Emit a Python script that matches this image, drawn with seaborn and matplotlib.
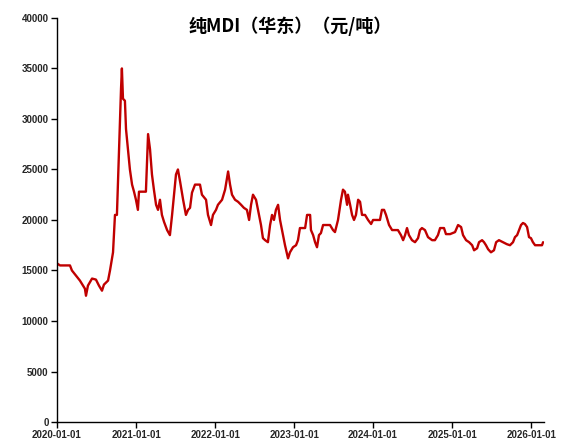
import matplotlib

matplotlib.use("Agg")

import matplotlib.dates as mdates
import matplotlib.pyplot as plt
import pandas as pd
import seaborn as sns

sns.set_theme(style="white")
plt.rcParams["font.family"] = ["Noto Sans CJK SC", "DejaVu Sans"]

title = "纯MDI（华东）（元/吨）"

dates = [
    "2020-01-01", "2020-01-15", "2020-03-01", "2020-03-10", "2020-04-16", "2020-05-09",
    "2020-05-14", "2020-05-23", "2020-06-11", "2020-06-29", "2020-07-13", "2020-07-27",
    "2020-08-05", "2020-08-24", "2020-09-02", "2020-09-16", "2020-09-25", "2020-10-04",
    "2020-10-14", "2020-10-23", "2020-10-27", "2020-11-01", "2020-11-10", "2020-11-15",
    "2020-11-24", "2020-12-03", "2020-12-13", "2020-12-22", "2020-12-31", "2021-01-09",
    "2021-01-14", "2021-02-15", "2021-02-25", "2021-03-06", "2021-03-15", "2021-03-24",
    "2021-04-03", "2021-04-12", "2021-04-21", "2021-04-30", "2021-05-10", "2021-05-24",
    "2021-06-06", "2021-06-16", "2021-06-25", "2021-07-04", "2021-07-13", "2021-07-23",
    "2021-08-06", "2021-08-19", "2021-08-29", "2021-09-07", "2021-09-16", "2021-09-30",
    "2021-10-23", "2021-11-01", "2021-11-20", "2021-11-29", "2021-12-13", "2021-12-22",
    "2022-01-05", "2022-01-14", "2022-02-02", "2022-02-16", "2022-03-02", "2022-03-11",
    "2022-03-20", "2022-04-03", "2022-04-17", "2022-05-01", "2022-05-14", "2022-05-28",
    "2022-06-07", "2022-06-16", "2022-06-25", "2022-07-09", "2022-07-18", "2022-08-01",
    "2022-08-10", "2022-08-20", "2022-09-02", "2022-09-12", "2022-09-21", "2022-09-30",
    "2022-10-09", "2022-10-19", "2022-10-28", "2022-11-06", "2022-11-20", "2022-12-04",
    "2022-12-13", "2022-12-27", "2023-01-10", "2023-01-19", "2023-01-28", "2023-02-21",
    "2023-03-02", "2023-03-16", "2023-03-20", "2023-03-30", "2023-04-08", "2023-04-17",
    "2023-04-26", "2023-05-05", "2023-05-15", "2023-06-16", "2023-06-30", "2023-07-09",
    "2023-07-23", "2023-08-06", "2023-08-15", "2023-08-24", "2023-09-03", "2023-09-07",
    "2023-09-17", "2023-09-26", "2023-10-05", "2023-10-14", "2023-10-24", "2023-11-02",
    "2023-11-11", "2023-11-25", "2023-12-09", "2023-12-23", "2024-01-01", "2024-02-02",
    "2024-02-11", "2024-02-21", "2024-03-01", "2024-03-15", "2024-03-29", "2024-04-25",
    "2024-05-09", "2024-05-19", "2024-05-28", "2024-06-06", "2024-06-15", "2024-06-29",
    "2024-07-13", "2024-07-27", "2024-08-05", "2024-08-14", "2024-08-28", "2024-09-11",
    "2024-09-30", "2024-10-13", "2024-10-27", "2024-11-06", "2024-11-24", "2024-12-03",
    "2024-12-22", "2025-01-14", "2025-01-28", "2025-02-11", "2025-02-20", "2025-03-06",
    "2025-03-20", "2025-04-03", "2025-04-12", "2025-04-26", "2025-05-05", "2025-05-19",
    "2025-05-28", "2025-06-06", "2025-06-16", "2025-06-29", "2025-07-13", "2025-07-23",
    "2025-08-05", "2025-08-24", "2025-09-11", "2025-09-25", "2025-10-09", "2025-10-18",
    "2025-10-28", "2025-11-06", "2025-11-15", "2025-11-24", "2025-12-03", "2025-12-13",
    "2025-12-22", "2025-12-31", "2026-01-09", "2026-01-19", "2026-02-20", "2026-02-25",
]

prices = [
    15700, 15500, 15500, 15000, 14000, 13200,
    12500, 13500, 14200, 14100, 13500, 13000,
    13600, 14000, 15000, 16800, 20500, 20500,
    27000, 33000, 35000, 32000, 31800, 29000,
    27000, 25000, 23500, 22800, 22000, 21000,
    22800, 22800, 28500, 27000, 24500, 23000,
    21500, 21000, 22000, 20500, 19800, 19000,
    18500, 20500, 22500, 24500, 25000, 23800,
    22000, 20500, 21000, 21200, 22700, 23500,
    23500, 22500, 22000, 20500, 19500, 20500,
    21000, 21500, 22000, 23000, 24800, 23500,
    22500, 22000, 21800, 21500, 21200, 21000,
    20000, 21500, 22500, 22000, 21000, 19500,
    18200, 18000, 17800, 19500, 20500, 20000,
    21000, 21500, 20000, 19000, 17500, 16200,
    16800, 17300, 17500, 18000, 19200, 19200,
    20500, 20500, 19000, 18500, 17800, 17300,
    18500, 18700, 19500, 19500, 19000, 18800,
    20000, 22000, 23000, 22800, 21500, 22500,
    21500, 20500, 20000, 20500, 22000, 21800,
    20500, 20500, 20000, 19600, 20000, 20000,
    21000, 21000, 20500, 19500, 19000, 19000,
    18500, 18000, 18500, 19200, 18500, 18000,
    17800, 18200, 19000, 19200, 19000, 18300,
    18000, 18000, 18500, 19200, 19200, 18600,
    18600, 18800, 19500, 19300, 18500, 18000,
    17800, 17500, 17000, 17200, 17800, 18000,
    17800, 17500, 17100, 16800, 17000, 17800,
    18000, 17800, 17600, 17500, 17800, 18300,
    18500, 19000, 19500, 19700, 19600, 19300,
    18300, 18200, 17800, 17500, 17500, 17800,
]

y_ticks = list(range(0, 40001, 5000))
x_ticks = ["2020-01-01", "2021-01-01", "2022-01-01", "2023-01-01",
           "2024-01-01", "2025-01-01", "2026-01-01"]

df = pd.DataFrame({"date": pd.to_datetime(dates), "price": prices})

fig = plt.figure(figsize=(5.61, 4.48), dpi=100)
ax = fig.add_axes([0.1016, 0.058, 0.868, 0.902])

sns.lineplot(data=df, x="date", y="price", ax=ax, color="#C00000", linewidth=1.7)

ax.set_ylim(0, 40000)
ax.set_yticks(y_ticks)
ax.set_xlim(pd.Timestamp("2020-01-01"), pd.Timestamp("2026-03-01"))
ax.set_xticks(pd.to_datetime(x_ticks))
ax.xaxis.set_major_formatter(mdates.DateFormatter("%Y-%m-%d"))
ax.set_xlabel("")
ax.set_ylabel("")

for side in ["top", "right"]:
    ax.spines[side].set_visible(False)
for side in ["left", "bottom"]:
    ax.spines[side].set_color("black")
    ax.spines[side].set_linewidth(1.0)

ax.tick_params(axis="both", direction="out", length=4, width=1, color="black",
               labelsize=7, pad=2, left=True, bottom=True)
for lbl in ax.get_xticklabels() + ax.get_yticklabels():
    lbl.set_fontweight("bold")
    lbl.set_family(["Liberation Sans", "DejaVu Sans"])

fig.text(0.517, 0.942, title, ha="center", va="center", fontsize=13,
         fontweight="bold", color="black")

fig.savefig("out.png", dpi=100)
plt.close(fig)
